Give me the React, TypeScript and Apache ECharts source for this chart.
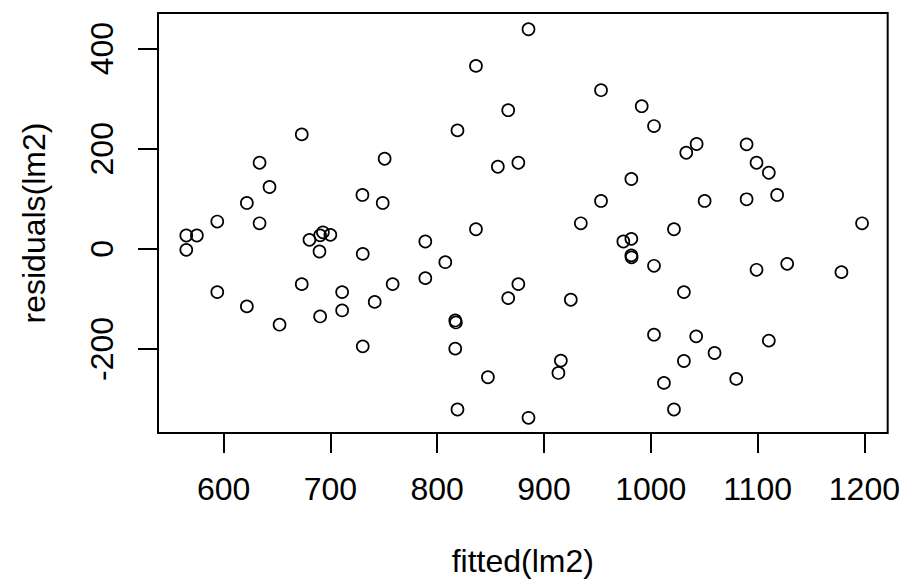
import React, { useEffect, useRef } from "react";
import * as echarts from "echarts";

const fittedValues = [
  565.1, 575, 565.1, 594.1, 594.1, 621.8, 621.8, 633.7, 633.7, 643,
  652.4, 673.2, 673.2, 680.4, 690.4, 693, 700, 689.8, 690.4, 711,
  711, 730, 730.3, 730.3, 741.5, 749, 750.8, 758.3, 788.9, 788.9,
  807.6, 816.9, 817.5, 816.9, 819, 819, 836.3, 836.3, 847.5, 856.8,
  866.5, 866.5, 876, 876, 885.5, 885.5, 913.5, 915.8, 925.1, 934.5,
  953.4, 953.4, 974.3, 981.8, 981.8, 982, 981.8, 991.5, 1003, 1003,
  1003, 1012.3, 1021.7, 1021.7, 1031, 1031, 1033.2, 1042.9, 1042.5, 1050.4,
  1059.7, 1080, 1089.7, 1089.7, 1099, 1099, 1110.5, 1110.5, 1118.3, 1127.7,
  1178.5, 1197.8,
];

const residualValues = [
  26.6, 26.6, -2, 54.5, -86.4, 91.7, -115, 172, 51, 123.6,
  -151.5, 228.7, -70.5, 18, 27, 33, 28, -5.3, -135, -86.4,
  -123, 107.7, -10, -194.8, -106, 91.7, 180, -70.4, 14.6, -58.5,
  -26.6, -143, -147, -199.4, 236.7, -321, 365.5, 39.2, -256.6, 164,
  277, -98.4, 172, -70.4, 438.7, -337.6, -247.9, -223.3, -101.7, 51,
  317, 95.7, 14.6, 20, -13, -17, 139.6, 285, 245.3, -33.9,
  -171.5, -267.8, 39.2, -321, -86.4, -224, 192, 209.4, -174.8, 95.7,
  -208, -259.8, 208.8, 99, 172, -41.9, 152, -183.4, 107.7, -30,
  -46.5, 51,
];

const xTickValues = [600, 700, 800, 900, 1000, 1100, 1200];
const yTickValues = [-200, 0, 200, 400];

const xAxisTitle = "fitted(lm2)";
const yAxisTitle = "residuals(lm2)";

const FONT = "'Liberation Sans', Arial, Helvetica, sans-serif";

export default function App() {
  const ref = useRef<HTMLDivElement>(null);

  useEffect(() => {
    if (!ref.current) return;
    const chart = echarts.init(ref.current, undefined, { renderer: "svg" });
    const points = fittedValues.map((x, i) => [x, residualValues[i]]);
    chart.setOption({
      animation: false,
      backgroundColor: "#ffffff",
      grid: {
        left: 158,
        top: 13,
        width: 731,
        height: 420,
        show: true,
        borderColor: "#000000",
        borderWidth: 2,
        backgroundColor: "transparent",
      },
      xAxis: {
        type: "value",
        min: 538.6,
        max: 1221.8,
        name: xAxisTitle,
        nameLocation: "middle",
        nameGap: 112,
        nameTextStyle: { fontFamily: FONT, fontSize: 32, color: "#000" },
        axisLine: { show: false, onZero: false },
        splitLine: { show: false },
        axisTick: {
          show: true,
          length: 20,
          lineStyle: { color: "#000", width: 2 },
          customValues: xTickValues,
        },
        axisLabel: {
          show: true,
          margin: 40,
          fontFamily: FONT,
          fontSize: 32,
          color: "#000",
          customValues: xTickValues,
          formatter: (v: number) => String(v),
        },
      },
      yAxis: {
        type: "value",
        min: -367.9,
        max: 471.2,
        name: yAxisTitle,
        nameLocation: "middle",
        nameGap: 108,
        nameRotate: 90,
        nameTextStyle: { fontFamily: FONT, fontSize: 32, color: "#000" },
        axisLine: { show: false, onZero: false },
        splitLine: { show: false },
        axisTick: {
          show: true,
          length: 20,
          lineStyle: { color: "#000", width: 2 },
          customValues: yTickValues,
        },
        axisLabel: {
          show: true,
          rotate: 90,
          margin: 40,
          fontFamily: FONT,
          fontSize: 32,
          color: "#000",
          customValues: yTickValues,
          formatter: (v: number) => String(v),
        },
      },
      series: [
        {
          type: "scatter",
          data: points,
          symbol: "circle",
          symbolSize: 12,
          itemStyle: {
            color: "rgba(0,0,0,0)",
            borderColor: "#000000",
            borderWidth: 1.7,
            opacity: 1,
          },
          emphasis: { disabled: true },
        },
      ],
    });
    return () => chart.dispose();
  }, []);

  return (
    <div
      ref={ref}
      style={{ position: "absolute", left: 0, top: 0, width: 903, height: 587 }}
    />
  );
}
